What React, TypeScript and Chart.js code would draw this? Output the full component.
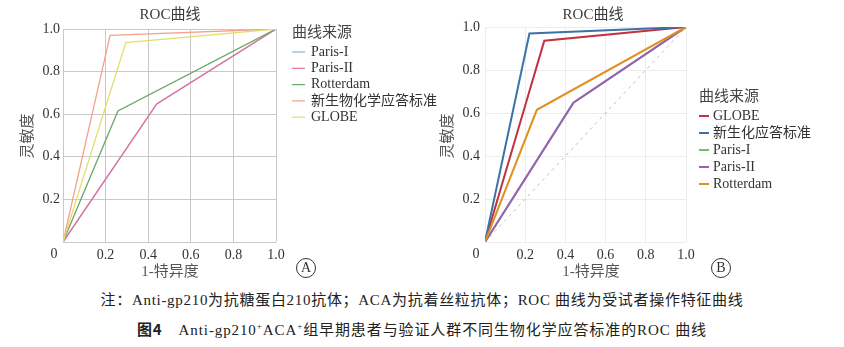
import React, { useEffect, useRef } from 'react';
import { Chart, registerables } from 'chart.js';

Chart.register(...registerables);

const FONT = "'Liberation Serif', 'Times New Roman', 'Noto Sans CJK SC', serif";

// Panel A series (legend order) and colours
const seriesA = ['Paris-I', 'Paris-II', 'Rotterdam', '新生物化学应答标准', 'GLOBE'];
const colorsA = ['#8db4de', '#e8709a', '#68a868', '#f5a08c', '#e4de6c'];
// Panel B series (legend order) and colours
const seriesB = ['GLOBE', '新生化应答标准', 'Paris-I', 'Paris-II', 'Rotterdam'];
const colorsB = ['#c0323f', '#3b72a8', '#6cbf6c', '#9b5fb8', '#e0901f'];

// 1-specificity (x) and sensitivity (y) for each criterion
const fprParisI = [0, 0.44, 1];
const tprParisI = [0, 0.648, 1];
const fprParisII = [0, 0.44, 1];
const tprParisII = [0, 0.648, 1];
const fprRotterdam = [0, 0.258, 1];
const tprRotterdam = [0, 0.615, 1];
const fprNew = [0, 0.221, 1];
const tprNew = [0, 0.97, 1];
const fprGlobe = [0, 0.295, 1];
const tprGlobe = [0, 0.936, 1];
// Reference diagonal (panel B)
const diagX = [0, 1];
const diagY = [0, 1];

const curves: Record<string, [number[], number[]]> = {
  'Paris-I': [fprParisI, tprParisI],
  'Paris-II': [fprParisII, tprParisII],
  Rotterdam: [fprRotterdam, tprRotterdam],
  '新生物化学应答标准': [fprNew, tprNew],
  '新生化应答标准': [fprNew, tprNew],
  GLOBE: [fprGlobe, tprGlobe],
};

const chartTitle = 'ROC曲线';
const xTitle = '1-特异度';
const yTitle = '灵敏度';
const legendTitle = '曲线来源';

const pts = (xs: number[], ys: number[]) => xs.map((x, i) => ({ x, y: ys[i] }));

const textPlugin = {
  id: 'panelText',
  afterDraw(chart: any, _args: any, o: any) {
    const ctx = chart.ctx;
    const ca = chart.chartArea;
    ctx.save();
    ctx.textBaseline = 'middle';
    // title
    ctx.textAlign = 'center';
    ctx.fillStyle = '#3a3a3a';
    ctx.font = `15px ${FONT}`;
    ctx.fillText(chartTitle, o.titleX, o.titleY);
    // x axis title
    ctx.fillStyle = '#555';
    ctx.fillText(xTitle, o.xTitleX, o.xTitleY);
    // y axis title
    ctx.save();
    ctx.translate(o.yTitleX, o.yTitleY);
    ctx.rotate(-Math.PI / 2);
    ctx.fillText(yTitle, 0, 0);
    ctx.restore();
    // origin "0"
    ctx.fillStyle = '#333';
    ctx.font = `14px ${FONT}`;
    ctx.fillText('0', ca.left - 9, ca.bottom + 12);
    // legend
    ctx.textAlign = 'left';
    ctx.fillStyle = '#444';
    ctx.font = `15px ${FONT}`;
    ctx.fillText(legendTitle, o.legX, o.legTitleY);
    ctx.font = `14px ${FONT}`;
    let i = 0;
    chart.data.datasets.forEach((ds: any) => {
      if (ds.hideInLegend) return;
      const y = o.legFirstY + i * o.legStep;
      ctx.strokeStyle = ds.borderColor;
      ctx.lineWidth = o.legLineWidth;
      ctx.beginPath();
      ctx.moveTo(o.legX, y);
      ctx.lineTo(o.legX + o.legSample, y);
      ctx.stroke();
      ctx.fillStyle = '#333';
      ctx.fillText(ds.label, o.legTextX, y);
      i++;
    });
    ctx.restore();
  },
};

function makeScales(gridColor: string, yWidth: number, yPad: number) {
  const tickFont = { family: FONT, size: 14 };
  const fmt = (v: any) => (Number(v) === 0 ? '' : Number(v).toFixed(1));
  return {
    x: {
      type: 'linear',
      min: 0,
      max: 1,
      ticks: { stepSize: 0.2, callback: fmt, padding: 5, color: '#333', font: tickFont, maxRotation: 0 },
      grid: { color: gridColor, drawTicks: false, lineWidth: 1 },
      border: { display: false },
      afterFit: (s: any) => {
        s.height = 48;
      },
    },
    y: {
      type: 'linear',
      min: 0,
      max: 1,
      ticks: { stepSize: 0.2, callback: fmt, padding: yPad, color: '#333', font: tickFont },
      grid: { color: gridColor, drawTicks: false, lineWidth: 1 },
      border: { display: false },
      afterFit: (s: any) => {
        s.width = yWidth;
      },
    },
  };
}

function Circle({ left, letter }: { left: number; letter: string }) {
  return (
    <div
      style={{
        position: 'absolute',
        left,
        top: 258,
        width: 18,
        height: 18,
        border: '1px solid #333',
        borderRadius: '50%',
        textAlign: 'center',
        lineHeight: '18px',
        fontSize: 14,
        fontFamily: FONT,
        color: '#333',
      }}
    >
      {letter}
    </div>
  );
}

export default function App() {
  const refA = useRef<HTMLCanvasElement>(null);
  const refB = useRef<HTMLCanvasElement>(null);

  useEffect(() => {
    document.body.style.margin = '0';
    const nA = seriesA.length;
    const chartA = new Chart(refA.current!, {
      type: 'line',
      data: {
        datasets: seriesA.map((name, i) => ({
          label: name,
          data: pts(curves[name][0], curves[name][1]),
          borderColor: colorsA[i],
          backgroundColor: colorsA[i],
          borderWidth: 1.3,
          pointRadius: 0,
          tension: 0,
          fill: false,
          order: nA - i,
        })),
      },
      options: {
        animation: false,
        responsive: false,
        maintainAspectRatio: false,
        parsing: false,
        layout: { padding: { left: 0, right: 194, top: 29, bottom: 0 } },
        plugins: {
          legend: { display: false },
          tooltip: { enabled: false },
          panelText: {
            titleX: 170,
            titleY: 15,
            xTitleX: 170,
            xTitleY: 272,
            yTitleX: 28,
            yTitleY: 136,
            legX: 292,
            legTitleY: 33,
            legFirstY: 52,
            legStep: 16.3,
            legSample: 13,
            legTextX: 311,
            legLineWidth: 1.2,
          },
        } as any,
        scales: makeScales('#c9c9c9', 63, 3) as any,
      },
      plugins: [textPlugin],
    });

    const nB = seriesB.length;
    const dsB: any[] = seriesB.map((name, i) => ({
      label: name,
      data: pts(curves[name][0], curves[name][1]),
      borderColor: colorsB[i],
      backgroundColor: colorsB[i],
      borderWidth: 2,
      pointRadius: 0,
      tension: 0,
      fill: false,
      order: nB - i,
    }));
    dsB.push({
      label: 'diag',
      hideInLegend: true,
      data: pts(diagX, diagY),
      borderColor: '#bdbdbd',
      borderWidth: 1,
      borderDash: [3, 4],
      pointRadius: 0,
      fill: false,
      order: 100,
    });
    const chartB = new Chart(refB.current!, {
      type: 'line',
      data: { datasets: dsB },
      options: {
        animation: false,
        responsive: false,
        maintainAspectRatio: false,
        parsing: false,
        layout: { padding: { left: 0, right: 158, top: 27, bottom: 0 } },
        plugins: {
          legend: { display: false },
          tooltip: { enabled: false },
          panelText: {
            titleX: 173,
            titleY: 15,
            xTitleX: 171,
            xTitleY: 272,
            yTitleX: 28,
            yTitleY: 136,
            legX: 279,
            legTitleY: 97,
            legFirstY: 116,
            legStep: 17,
            legSample: 10,
            legTextX: 293,
            legLineWidth: 2,
          },
        } as any,
        scales: makeScales('#ececec', 65, 5) as any,
      },
      plugins: [textPlugin],
    });

    return () => {
      chartA.destroy();
      chartB.destroy();
    };
  }, []);

  return (
    <div style={{ position: 'relative', width: 844, height: 347, background: '#fff', overflow: 'hidden' }}>
      <canvas ref={refA} width={470} height={290} style={{ position: 'absolute', left: 0, top: 0, width: 470, height: 290 }} />
      <canvas ref={refB} width={424} height={290} style={{ position: 'absolute', left: 420, top: 0, width: 424, height: 290 }} />
      <Circle left={296} letter="A" />
      <Circle left={711} letter="B" />
      <div
        style={{
          position: 'absolute',
          left: 0,
          top: 291,
          width: 844,
          textAlign: 'center',
          fontFamily: FONT,
          fontSize: 15,
          letterSpacing: '0.7px',
          color: '#222',
          lineHeight: '18px',
          whiteSpace: 'nowrap',
        }}
      >
        注：Anti-gp210为抗糖蛋白210抗体；ACA为抗着丝粒抗体；ROC 曲线为受试者操作特征曲线
      </div>
      <div
        style={{
          position: 'absolute',
          left: 0,
          top: 317,
          width: 844,
          textAlign: 'center',
          fontFamily: FONT,
          fontSize: 15,
          letterSpacing: '0.9px',
          color: '#222',
          lineHeight: '18px',
          whiteSpace: 'nowrap',
        }}
      >
        <b style={{ fontFamily: "'Noto Sans CJK SC', sans-serif", marginRight: 16 }}>图4</b>
        Anti-gp210<sup style={{ fontSize: 9 }}>+</sup>ACA<sup style={{ fontSize: 9 }}>+</sup>组早期患者与验证人群不同生物化学应答标准的ROC 曲线
      </div>
    </div>
  );
}
